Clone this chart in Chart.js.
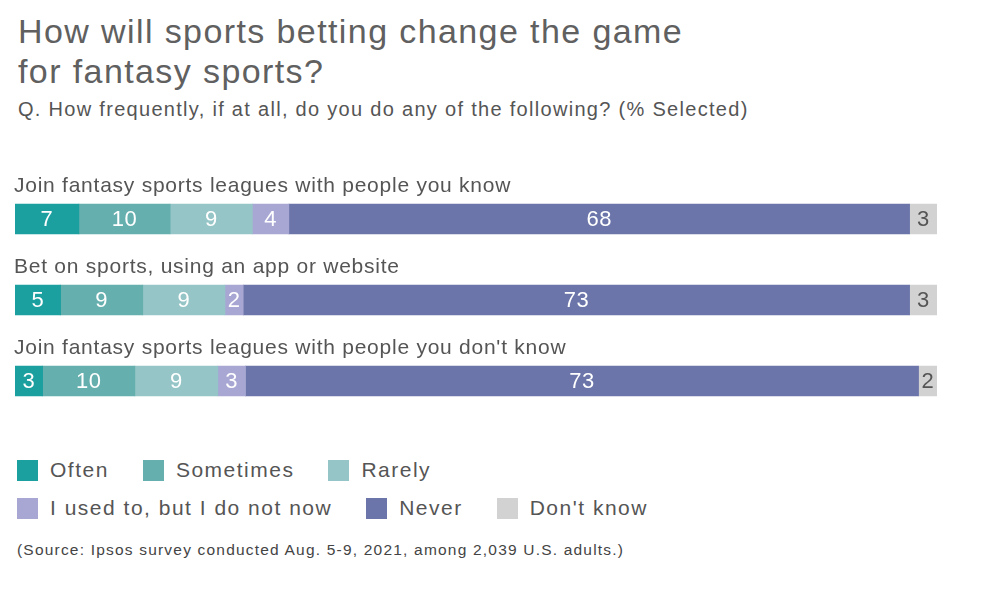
<!DOCTYPE html>
<html>
<head>
<meta charset="utf-8">
<script src="https://cdn.jsdelivr.net/npm/chart.js@4/dist/chart.umd.min.js"></script>
<style>
  body { margin: 0; background: #fff; font-family: "Liberation Sans", Arial, sans-serif; color: #555; }
  #wrap { position: relative; width: 1000px; height: 603px; overflow: hidden; }
  h1 { position: absolute; left: 18px; top: 11px; margin: 0; font-weight: normal; font-size: 34px; line-height: 40px; color: #606060; letter-spacing: 1.4px; }
  .sub { position: absolute; left: 18px; top: 98px; font-size: 20px; color: #555; letter-spacing: 1.3px; }
  canvas { position: absolute; left: 0; top: 150px; }
  .legend { position: absolute; left: 17px; font-size: 21px; color: #555; display: flex; letter-spacing: 1.5px; }
  .legend .item { display: flex; align-items: center; margin-right: 34px; }
  .legend .sw { width: 21px; height: 21px; margin-right: 12px; }
  .src { position: absolute; left: 17px; top: 541px; font-size: 15.5px; color: #444; letter-spacing: 1.2px; }
</style>
</head>
<body>
<div id="wrap">
  <h1>How will sports betting change the game<br>for fantasy sports?</h1>
  <div class="sub">Q. How frequently, if at all, do you do any of the following? (% Selected)</div>
  <canvas id="chart" width="1000" height="280"></canvas>
  <div class="legend" id="leg1" style="top:458px"></div>
  <div class="legend" id="leg2" style="top:496px"></div>
  <div class="src">(Source: Ipsos survey conducted Aug. 5-9, 2021, among 2,039 U.S. adults.)</div>
</div>
<script>
const categories = [
  "Join fantasy sports leagues with people you know",
  "Bet on sports, using an app or website",
  "Join fantasy sports leagues with people you don't know"
];
const seriesNames = ["Often", "Sometimes", "Rarely", "I used to, but I do not now", "Never", "Don't know"];
const seriesColors = ["#1c9f9f", "#65afaf", "#96c5c7", "#a8a7d4", "#6b75a9", "#d2d2d2"];
const often     = [7, 5, 3];
const sometimes = [10, 9, 10];
const rarely    = [9, 9, 9];
const usedTo    = [4, 2, 3];
const never     = [68, 73, 73];
const dontKnow  = [3, 3, 2];

const series = [often, sometimes, rarely, usedTo, never, dontKnow];
// each row fills the full width, so scale every value by its row total
const rowTotals = categories.map((c, i) => series.reduce((s, arr) => s + arr[i], 0));

const datasets = series.map((vals, k) => ({
  label: seriesNames[k],
  data: vals.map((v, i) => v / rowTotals[i] * 100),
  raw: vals,
  backgroundColor: seriesColors[k],
  borderWidth: 0,
  barThickness: 30
}));

const labelPlugin = {
  id: 'labels',
  afterDatasetsDraw(chart) {
    const ctx = chart.ctx;
    ctx.save();
    // category labels above each bar
    const first = chart.getDatasetMeta(0);
    ctx.font = '21px "Liberation Sans", Arial, sans-serif';
    ctx.letterSpacing = '0.75px';
    ctx.fillStyle = '#555';
    ctx.textAlign = 'left';
    ctx.textBaseline = 'alphabetic';
    first.data.forEach((bar, i) => {
      ctx.fillText(categories[i], chart.chartArea.left - 1, bar.y - 27);
    });
    // values inside segments
    ctx.font = '22px "Liberation Sans", Arial, sans-serif';
    ctx.letterSpacing = '0.5px';
    ctx.textAlign = 'center';
    ctx.textBaseline = 'middle';
    chart.data.datasets.forEach((ds, k) => {
      const meta = chart.getDatasetMeta(k);
      ctx.fillStyle = k === 5 ? '#555' : '#fff';
      meta.data.forEach((bar, i) => {
        ctx.fillText(String(ds.raw[i]), (bar.x + bar.base) / 2, bar.y + 1);
      });
    });
    ctx.restore();
  }
};

new Chart(document.getElementById('chart'), {
  type: 'bar',
  data: { labels: categories, datasets: datasets },
  options: {
    indexAxis: 'y',
    responsive: false,
    animation: false,
    devicePixelRatio: 1,
    layout: { padding: { left: 15, right: 63, top: 28.5, bottom: 8.5 } },
    scales: {
      x: { stacked: true, min: 0, max: 100, display: false },
      y: { stacked: true, display: false }
    },
    plugins: { legend: { display: false }, tooltip: { enabled: false } }
  },
  plugins: [labelPlugin]
});

function buildLegend(el, idx) {
  idx.forEach(k => {
    const item = document.createElement('div');
    item.className = 'item';
    const sw = document.createElement('span');
    sw.className = 'sw';
    sw.style.background = seriesColors[k];
    const t = document.createElement('span');
    t.textContent = seriesNames[k];
    item.appendChild(sw);
    item.appendChild(t);
    el.appendChild(item);
  });
}
buildLegend(document.getElementById('leg1'), [0, 1, 2]);
buildLegend(document.getElementById('leg2'), [3, 4, 5]);
</script>
</body>
</html>
